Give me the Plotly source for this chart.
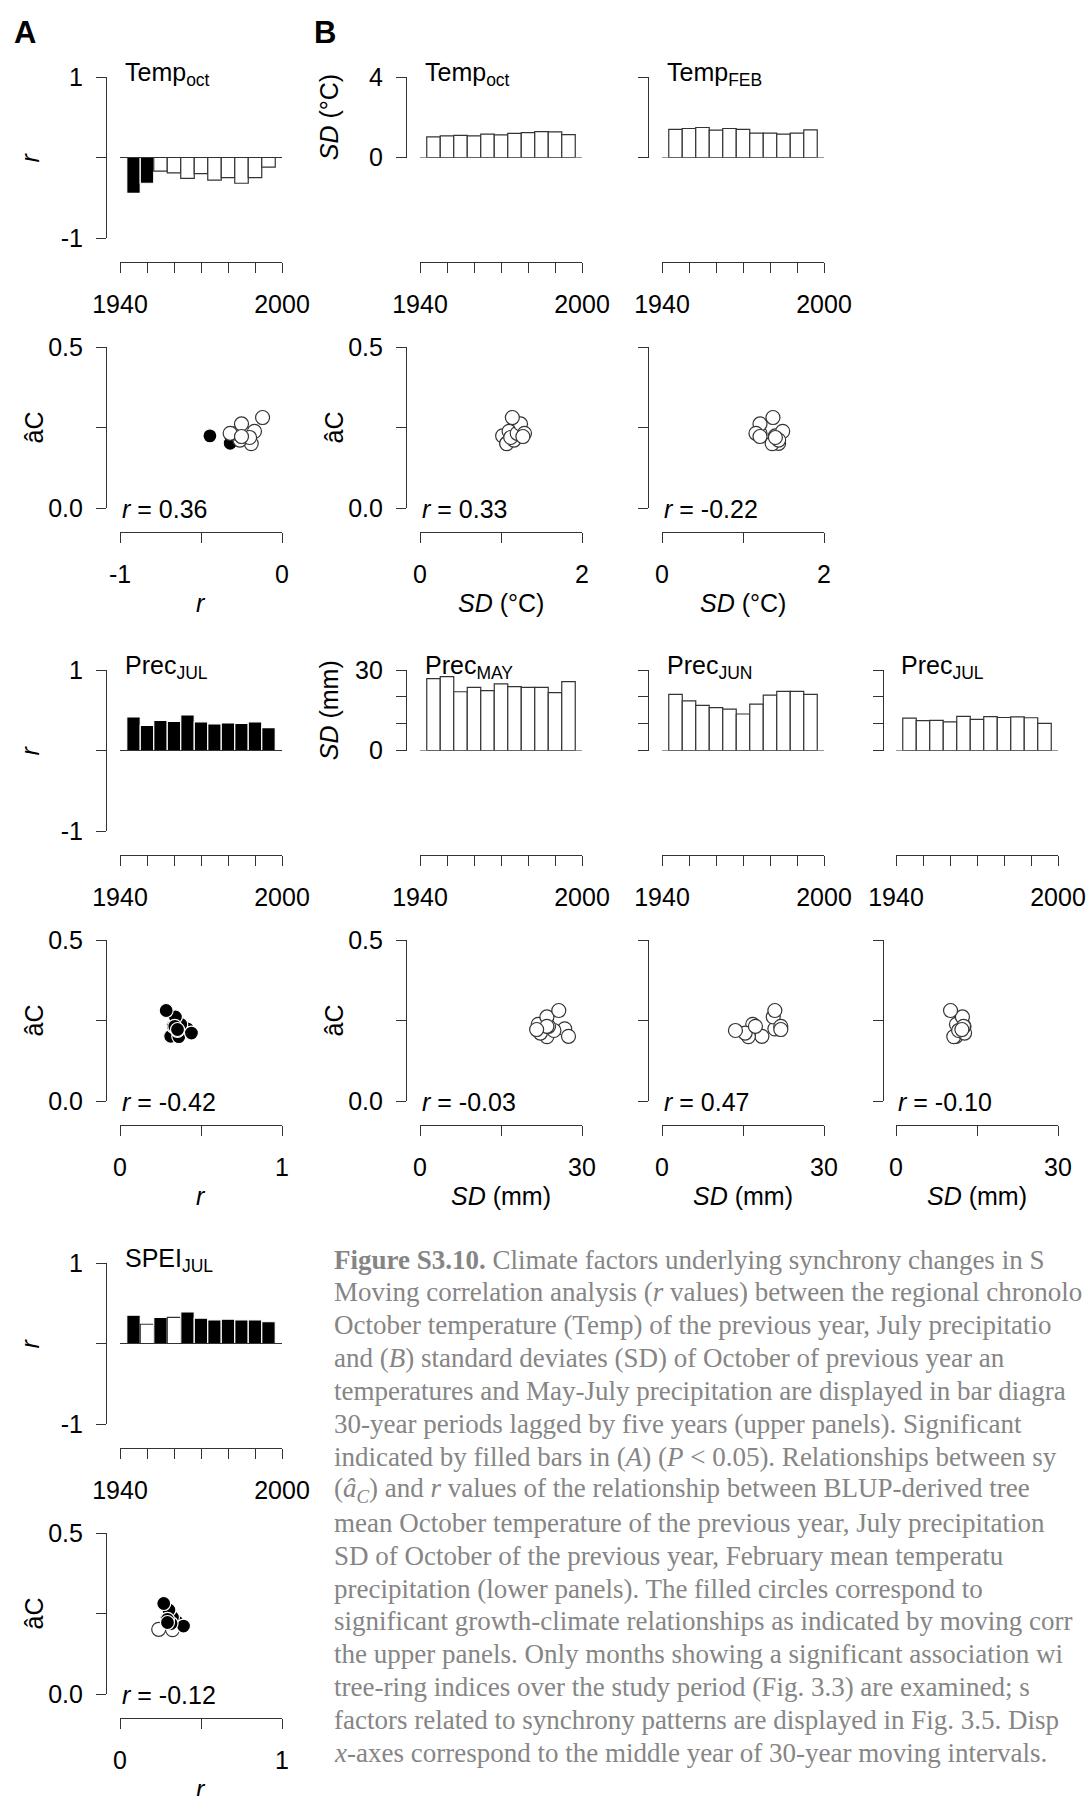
import plotly.graph_objects as go

W, H = 1090, 1796

# Middle years of the 30-year moving windows (lagged by five years)
years = [1945, 1950, 1955, 1960, 1965, 1970, 1975, 1980, 1985, 1990, 1995]

# Synchrony (âC) of each moving window
ac = [0.224, 0.201, 0.238, 0.200, 0.211, 0.219, 0.232, 0.261, 0.232, 0.222, 0.281]

# (A) moving correlations (r) with climate, and significance (1 = P < 0.05)
r_temp_oct = [-0.445, -0.32, -0.17, -0.19, -0.26, -0.20, -0.28, -0.25, -0.32, -0.25, -0.12]
sig_temp_oct = [1, 1, 0, 0, 0, 0, 0, 0, 0, 0, 0]
r_prec_jul = [0.416, 0.313, 0.375, 0.363, 0.441, 0.355, 0.330, 0.342, 0.338, 0.355, 0.285]
sig_prec_jul = [1, 1, 1, 1, 1, 1, 1, 1, 1, 1, 1]
r_spei_jul = [0.351, 0.239, 0.324, 0.324, 0.392, 0.315, 0.293, 0.302, 0.293, 0.293, 0.270]
sig_spei_jul = [1, 0, 1, 0, 1, 1, 1, 1, 1, 1, 1]
no_sig = [0] * 11

# (B) standard deviations of climate within each window
sd_temp_oct = [1.02, 1.07, 1.10, 1.07, 1.16, 1.12, 1.20, 1.24, 1.29, 1.27, 1.14]
sd_temp_feb = [1.40, 1.44, 1.49, 1.36, 1.44, 1.40, 1.21, 1.21, 1.16, 1.21, 1.37]
sd_prec_may = [26.8, 27.5, 21.9, 23.5, 22.3, 24.8, 23.8, 23.5, 23.5, 21.6, 25.7]
sd_prec_jun = [20.9, 18.5, 16.8, 16.0, 15.4, 13.6, 17.3, 20.6, 22.0, 22.0, 20.9]
sd_prec_jul = [12.1, 11.1, 11.2, 10.7, 12.7, 11.6, 12.6, 12.3, 12.5, 12.2, 10.1]

# Correlation between each climate series and synchrony
r_labels = {
    "temp_oct_r": "0.36", "temp_oct_sd": "0.33", "temp_feb_sd": "-0.22",
    "prec_jul_r": "-0.42", "prec_may_sd": "-0.03", "prec_jun_sd": "0.47",
    "prec_jul_sd": "-0.10", "spei_jul_r": "-0.12",
}

# labelled ticks and unlabelled (minor) ticks of the year axes
year_major = [1940, 2000]
year_minor = [1950, 1960, 1970, 1980, 1990]

caption_lines = [
    "<b>Figure S3.10.</b> Climate factors underlying synchrony changes in S",
    "Moving correlation analysis (<i>r</i> values) between the regional chronolo",
    "October temperature (Temp) of the previous year, July precipitatio",
    "and (<i>B</i>) standard deviates (SD) of October of previous year an",
    "temperatures and May-July precipitation are displayed in bar diagra",
    "30-year periods lagged by five years (upper panels). Significant",
    "indicated by filled bars in (<i>A</i>) (<i>P</i> &lt; 0.05). Relationships between sy",
    "(<i>â<sub>C</sub></i>) and <i>r</i> values of the relationship between BLUP-derived tree",
    "mean October temperature of the previous year, July precipitation",
    "SD of October of the previous year, February mean temperatu",
    "precipitation (lower panels). The filled circles correspond to",
    "significant growth-climate relationships as indicated by moving corr",
    "the upper panels. Only months showing a significant association wi",
    "tree-ring indices over the study period (Fig. 3.3) are examined; s",
    "factors related to synchrony patterns are displayed in Fig. 3.5. Disp",
    "<i>x</i>-axes correspond to the middle year of 30-year moving intervals.",
]

# ---- layout geometry (pixels) ----
AX = "#333333"
FONT = "Liberation Sans, Arial, sans-serif"
FS = 25
COLS = [(120, 282, 106), (420, 582, 406), (662, 824, 648), (896, 1058, 883)]
PAIR = 593
BAR_TOP, BAR_BOT, BAR_MID, BAR_XAX = 77, 238, 157.5, 262
SC_TOP, SC_BOT, SC_XAX, SC_XTITLE = 347, 508, 532, 603


def px(x):
    return x / W


def py(y):
    return 1 - y / H


fig = go.Figure()
annotations = []
shapes = []
tick_style = dict(ticks="outside", ticklen=10, tickwidth=1.2, tickcolor=AX)
axis_style = dict(showline=True, linecolor=AX, linewidth=1.2, showgrid=False,
                  zeroline=False, fixedrange=True, automargin=False,
                  tickmode="array",
                  tickfont=dict(size=FS, color="black", family=FONT), **tick_style)
counter = [0]


def axis(domain, rng, pos, major, labels, minor, standoff):
    d = dict(domain=domain, range=rng, anchor="free", position=pos,
             tickvals=major, ticktext=labels, showticklabels=bool(labels),
             ticklabelstandoff=standoff, **axis_style)
    if minor:
        d["minor"] = dict(tickmode="array", tickvals=minor, showgrid=False, **tick_style)
    return d


def new_axes(col, top, bot, xline, xrange, xmaj, xlab, xmin, yrange, ymaj, ylab, ymin):
    counter[0] += 1
    n = counter[0]
    suf = "" if n == 1 else str(n)
    x0, x1, yax = COLS[col]
    fig.layout["xaxis" + suf] = axis([px(x0), px(x1)], xrange, py(xline),
                                     xmaj, xlab, xmin, 10)
    fig.layout["yaxis" + suf] = axis([py(bot), py(top)], yrange, px(yax),
                                     ymaj, ylab, ymin, 8)
    return "x" + suf, "y" + suf


def fills(sig):
    return (["black" if s else "white" for s in sig],
            ["white" if s else AX for s in sig])


def label(text, x, y, angle=0, anchor="center", size=FS):
    annotations.append(dict(text=text, xref="paper", yref="paper", x=px(x), y=py(y),
                            textangle=angle, xanchor=anchor, yanchor="middle",
                            showarrow=False,
                            font=dict(size=size, color="black", family=FONT)))


def bar_panel(col, k, vals, sig, title, yrange, ymaj, ylab, ymin, ytitle=None, sd=False):
    off = PAIR * k
    top = BAR_TOP + off
    bot = (BAR_MID if sd else BAR_BOT) + off
    xa, ya = new_axes(col, top, bot, BAR_XAX + off, [1940, 2000], year_major,
                      ["1940", "2000"], year_minor, yrange, ymaj, ylab, ymin)
    fc, lc = fills(sig)
    fig.add_trace(go.Bar(x=years, y=vals, width=5, xaxis=xa, yaxis=ya,
                         marker=dict(color=fc, line=dict(color=lc, width=1.2)),
                         showlegend=False, hoverinfo="skip"))
    shapes.append(dict(type="line", xref=xa + " domain", yref=ya, x0=0, x1=1,
                       y0=0, y1=0, line=dict(color=AX, width=1.2)))
    label(title, COLS[col][0] + 3, 74 + off, anchor="left")
    if ytitle:
        label(ytitle, 29 if col == 0 else 329, (top + bot) / 2, angle=-90)


def scatter_panel(col, k, xvals, sig, xrange, xmaj, xlab, xmin, rtext, xtitle, labels):
    off = PAIR * k
    top, bot = SC_TOP + off, SC_BOT + off
    ylab = ["0.0", "0.5"] if labels else []
    xa, ya = new_axes(col, top, bot, SC_XAX + off, xrange, xmaj, xlab, xmin,
                      [0, 0.5], [0, 0.5], ylab, [0.25])
    fc, lc = fills(sig)
    fig.add_trace(go.Scatter(x=xvals, y=ac, mode="markers", xaxis=xa, yaxis=ya,
                             marker=dict(size=14, color=fc,
                                         line=dict(color=lc, width=1.2)),
                             showlegend=False, hoverinfo="skip"))
    label("<i>r</i> = " + rtext, COLS[col][0], bot + 1, anchor="left")
    label(xtitle, (COLS[col][0] + COLS[col][1]) / 2, SC_XTITLE + off)
    if labels:
        label("âC", 33 if col == 0 else 333, (top + bot) / 2, angle=-90)


r_axis = ([-1, 1], ["-1", "1"], [0])
sd_c = "<i>SD</i> (°C)"
sd_mm = "<i>SD</i> (mm)"
mm_minor = [10, 20]

# upper panels: moving correlations (A) and standard deviations (B)
bar_panel(0, 0, r_temp_oct, sig_temp_oct, "Temp<sub>oct</sub>", [-1, 1], *r_axis, ytitle="<i>r</i>")
bar_panel(1, 0, sd_temp_oct, no_sig, "Temp<sub>oct</sub>", [0, 4], [0, 4], ["0", "4"], None, ytitle=sd_c, sd=True)
bar_panel(2, 0, sd_temp_feb, no_sig, "Temp<sub>FEB</sub>", [0, 4], [0, 4], [], None, sd=True)
bar_panel(0, 1, r_prec_jul, sig_prec_jul, "Prec<sub>JUL</sub>", [-1, 1], *r_axis, ytitle="<i>r</i>")
bar_panel(1, 1, sd_prec_may, no_sig, "Prec<sub>MAY</sub>", [0, 30], [0, 30], ["0", "30"], mm_minor, ytitle=sd_mm, sd=True)
bar_panel(2, 1, sd_prec_jun, no_sig, "Prec<sub>JUN</sub>", [0, 30], [0, 30], [], mm_minor, sd=True)
bar_panel(3, 1, sd_prec_jul, no_sig, "Prec<sub>JUL</sub>", [0, 30], [0, 30], [], mm_minor, sd=True)
bar_panel(0, 2, r_spei_jul, sig_spei_jul, "SPEI<sub>JUL</sub>", [-1, 1], *r_axis, ytitle="<i>r</i>")

# lower panels: synchrony against climate
neg_r = ([-1, 0], [-1, 0], ["-1", "0"], [-0.5])
pos_r = ([0, 1], [0, 1], ["0", "1"], [0.5])
sd_t = ([0, 2], [0, 2], ["0", "2"], [1])
sd_p = ([0, 30], [0, 30], ["0", "30"], [15])
scatter_panel(0, 0, r_temp_oct, sig_temp_oct, *neg_r, r_labels["temp_oct_r"], "<i>r</i>", True)
scatter_panel(1, 0, sd_temp_oct, no_sig, *sd_t, r_labels["temp_oct_sd"], sd_c, True)
scatter_panel(2, 0, sd_temp_feb, no_sig, *sd_t, r_labels["temp_feb_sd"], sd_c, False)
scatter_panel(0, 1, r_prec_jul, sig_prec_jul, *pos_r, r_labels["prec_jul_r"], "<i>r</i>", True)
scatter_panel(1, 1, sd_prec_may, no_sig, *sd_p, r_labels["prec_may_sd"], sd_mm, True)
scatter_panel(2, 1, sd_prec_jun, no_sig, *sd_p, r_labels["prec_jun_sd"], sd_mm, False)
scatter_panel(3, 1, sd_prec_jul, no_sig, *sd_p, r_labels["prec_jul_sd"], sd_mm, False)
scatter_panel(0, 2, r_spei_jul, sig_spei_jul, *pos_r, r_labels["spei_jul_r"], "<i>r</i>", True)

# panel letters
label("<b>A</b>", 25, 32, size=31)
label("<b>B</b>", 325, 32, size=31)

# caption
for i, line in enumerate(caption_lines):
    annotations.append(dict(text=line, xref="paper", yref="paper",
                            x=px(332), y=py(1259.5 + 32.9 * i),
                            xanchor="left", yanchor="middle", showarrow=False,
                            font=dict(size=27, color="#858585",
                                      family="Liberation Serif, Times New Roman, serif")))

fig.update_layout(template="none", width=W, height=H,
                  margin=dict(l=0, r=0, t=0, b=0, pad=0),
                  paper_bgcolor="white", plot_bgcolor="white",
                  font=dict(family=FONT, color="black"),
                  showlegend=False, annotations=annotations, shapes=shapes)

fig.write_html("out.html")
